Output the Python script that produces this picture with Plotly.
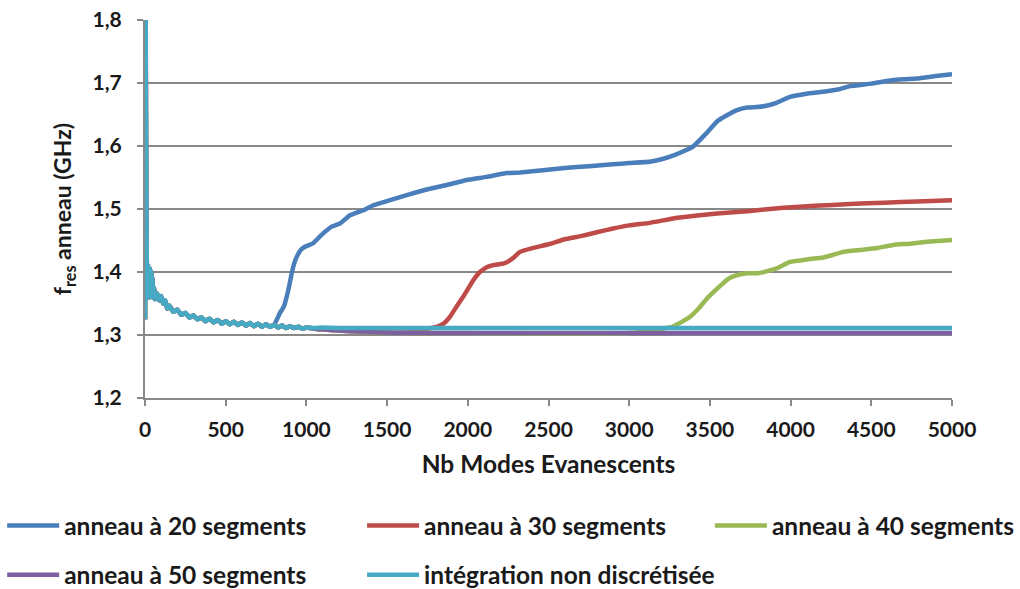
import plotly.graph_objects as go

# ---------------- data ----------------
# shared early part (all series overlap here, cyan drawn on top)
x_early = [0, 3, 6, 9, 12, 15, 18, 21, 24, 27, 30, 34, 38, 42, 46, 50, 55, 62, 75, 88,
           100, 112, 125, 137, 150, 175, 200, 225, 250, 275, 300, 325, 350, 375, 400,
           425, 450, 475, 500, 525, 550, 575, 600, 625, 650, 675, 700, 725, 750, 775]
y_early = [1.325, 1.90, 1.62, 1.45, 1.40, 1.36, 1.41, 1.37, 1.40, 1.36, 1.405, 1.37, 1.40,
           1.365, 1.39, 1.36, 1.375, 1.357, 1.366, 1.355, 1.362, 1.350, 1.355, 1.342, 1.347,
           1.337, 1.340, 1.332, 1.335, 1.328, 1.331, 1.325, 1.328, 1.322, 1.326, 1.320,
           1.324, 1.318, 1.322, 1.317, 1.321, 1.316, 1.320, 1.315, 1.319, 1.314, 1.318,
           1.313, 1.317, 1.313]

# continuation of the low plateau (cyan / purple)
x_mid = [800, 825, 850, 875, 900, 925, 950, 975, 1000]
y_mid = [1.316, 1.312, 1.315, 1.311, 1.314, 1.311, 1.313, 1.310, 1.312]

x_cyan_tail = [1050, 1100, 1200, 2000, 3000, 4000, 5000]
y_cyan_tail = [1.311, 1.312, 1.311, 1.311, 1.311, 1.311, 1.311]

x_purple_tail = [1050, 1100, 1200, 1300, 1400, 1500, 1600, 2000, 3000, 4000, 5000]
y_purple_tail = [1.310, 1.309, 1.307, 1.306, 1.305, 1.304, 1.3035, 1.303, 1.303, 1.303, 1.303]

x_blue_tail = [800, 836, 860, 878, 895, 909, 925, 940, 965, 991, 1043, 1094, 1156, 1208,
               1270, 1353, 1415, 1518, 1621, 1745, 1869, 1993, 2117, 2241, 2323, 2450,
               2600, 2750, 2900, 3000, 3127, 3200, 3284, 3340, 3395, 3470, 3544, 3600,
               3668, 3730, 3792, 3850, 3916, 3996, 4100, 4201, 4300, 4368, 4500, 4616,
               4700, 4783, 4900, 5000]
y_blue_tail = [1.316, 1.335, 1.345, 1.361, 1.380, 1.398, 1.414, 1.424, 1.435, 1.440, 1.446,
               1.459, 1.472, 1.477, 1.490, 1.498, 1.506, 1.514, 1.522, 1.531, 1.538, 1.546,
               1.551, 1.557, 1.558, 1.561, 1.565, 1.568, 1.571, 1.573, 1.575, 1.579, 1.586,
               1.592, 1.599, 1.618, 1.639, 1.648, 1.657, 1.661, 1.662, 1.664, 1.669, 1.678,
               1.683, 1.686, 1.690, 1.695, 1.699, 1.704, 1.706, 1.707, 1.711, 1.714]

x_red_tail = [1807, 1850, 1890, 1930, 1972, 2034, 2075, 2120, 2158, 2230, 2280, 2323, 2400,
              2500, 2600, 2700, 2800, 2900, 3000, 3127, 3300, 3544, 3750, 3957, 4150, 4368,
              4580, 4783, 5000]
y_red_tail = [1.313, 1.318, 1.329, 1.345, 1.361, 1.387, 1.400, 1.408, 1.411, 1.414, 1.422,
              1.432, 1.438, 1.444, 1.452, 1.457, 1.463, 1.469, 1.474, 1.478, 1.486, 1.493,
              1.497, 1.502, 1.505, 1.508, 1.510, 1.512, 1.514]

x_green_tail = [3265, 3320, 3377, 3430, 3482, 3530, 3581, 3620, 3668, 3730, 3792, 3850,
                3916, 3996, 4100, 4201, 4260, 4325, 4430, 4536, 4636, 4740, 4845, 5000]
y_green_tail = [1.313, 1.320, 1.329, 1.342, 1.358, 1.370, 1.382, 1.390, 1.395, 1.398, 1.398,
                1.401, 1.406, 1.416, 1.420, 1.423, 1.427, 1.432, 1.435, 1.438, 1.443, 1.445,
                1.448, 1.451]

names = ["anneau à 20 segments", "anneau à 30 segments", "anneau à 40 segments",
         "anneau à 50 segments", "intégration non discrétisée"]
colors = ["#4A7EBB", "#BE4B48", "#98B954", "#7D60A0", "#46AAC5"]

y_ticks = [1.2, 1.3, 1.4, 1.5, 1.6, 1.7, 1.8]
x_ticks = [0, 500, 1000, 1500, 2000, 2500, 3000, 3500, 4000, 4500, 5000]

# ---------------- build series ----------------
base_x = x_early + x_mid + x_purple_tail
base_y = y_early + y_mid + y_purple_tail


def before(xs, ys, limit):
    return [x for x in xs if x < limit], [y for x, y in zip(xs, ys) if x < limit]


bx, by = before(base_x, base_y, 800)
rx, ry = before(base_x, base_y, 1807)
gx, gy = before(base_x, base_y, 3265)

series = [
    (bx + x_blue_tail, by + y_blue_tail),
    (rx + x_red_tail, ry + y_red_tail),
    (gx + x_green_tail, gy + y_green_tail),
    (base_x, base_y),
    (x_early + x_mid + x_cyan_tail, y_early + y_mid + y_cyan_tail),
]

FONT = "Lato"
TXT = "#1a1a1a"
legend_ids = ["legend", "legend2", "legend3", "legend4", "legend5"]
# legend slot positions (paper coords): three columns, two rows
leg_x = [-0.177, 0.269, 0.700, -0.177, 0.269]
leg_y = [-0.278, -0.278, -0.278, -0.408, -0.408]

fig = go.Figure()
for i, ((xs, ys), name, col) in enumerate(zip(series, names, colors)):
    fig.add_trace(go.Scatter(
        x=xs, y=ys, mode="lines", name=name,
        line=dict(color=col, width=4.5, shape="spline", smoothing=0.3),
        legend=legend_ids[i],
    ))

legends = {}
for i, lid in enumerate(legend_ids):
    legends[lid] = dict(orientation="h", x=leg_x[i], xanchor="left", y=leg_y[i], yanchor="top",
                        itemwidth=52, bgcolor="rgba(0,0,0,0)",
                        font=dict(family=FONT, size=24.5, color=TXT, weight="bold"))

grid = "#888888"
fig.update_layout(
    width=1020, height=589,
    margin=dict(l=145, r=68, t=20, b=191, autoexpand=False),
    plot_bgcolor="white", paper_bgcolor="white",
    separators=", ",
    font=dict(family=FONT, size=20, color=TXT, weight="bold"),
    showlegend=True,
    **legends,
)
fig.update_xaxes(
    range=[0, 5000], tickvals=x_ticks, ticktext=[str(v) for v in x_ticks],
    showgrid=False, zeroline=False, showline=True, linecolor=grid, linewidth=2,
    ticks="outside", ticklen=6, tickcolor=grid, tickwidth=2, ticklabelstandoff=6,
    automargin=False,
    tickfont=dict(family=FONT, size=21, weight="bold"),
    title=dict(text="Nb Modes Evanescents", font=dict(family=FONT, size=24.5, weight="bold"),
               standoff=16),
)
fig.update_yaxes(
    range=[1.2, 1.8], tickvals=y_ticks, ticktext=[f"{v:.1f}".replace(".", ",") for v in y_ticks],
    showgrid=True, gridcolor=grid, gridwidth=2, zeroline=False,
    showline=True, linecolor=grid, linewidth=2,
    ticks="outside", ticklen=6, tickcolor=grid, tickwidth=2, ticklabelstandoff=11,
    automargin=False,
    tickfont=dict(family=FONT, size=21, weight="bold"),
    title=dict(text="f<sub>res</sub> anneau (GHz)", font=dict(family=FONT, size=23, weight="bold"),
               standoff=14),
)

fig.write_html("out.html", config={"displayModeBar": False},
               post_script="document.body.style.margin='0';")
